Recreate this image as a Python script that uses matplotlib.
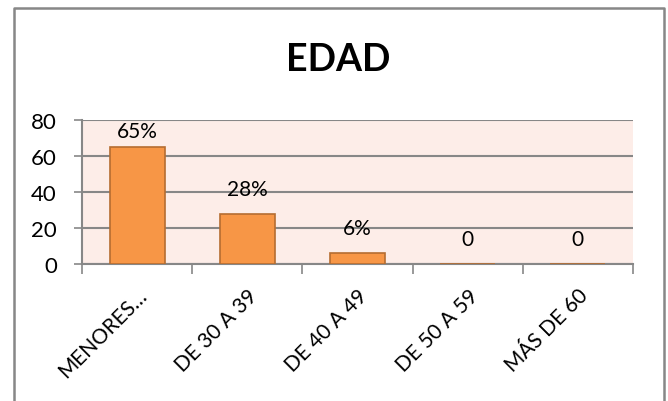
import numpy as np
import matplotlib.pyplot as plt
import matplotlib.transforms as mtransforms
from matplotlib.lines import Line2D

# data
categories = ['MENORES…', 'DE 30 A 39', 'DE 40 A 49', 'DE 50 A 59', 'MÁS DE 60']
values = [65, 28, 6, 0, 0]
labels = ['65%', '28%', '6%', '0', '0']

plt.rcParams['font.family'] = ['Lato', 'DejaVu Sans']

fig = plt.figure(figsize=(6.68, 4.02), dpi=100)
ax = fig.add_axes([82 / 668, 137 / 402, 551 / 668, 144 / 402])

x = np.arange(len(categories))
ax.bar(x, values, width=0.5, color='#F79646', edgecolor='#B66D31', linewidth=1.2, zorder=3)

ymax = 80
# labels sit ~25 px above the bar top, pushed down when they would leave the plot area
px_per_unit = 144 / ymax
for xi, v, lab in zip(x, values, labels):
    yc = min(v + 25 / px_per_unit, ymax - 11 / px_per_unit)
    ax.text(xi, yc, lab, ha='center', va='center', fontsize=15, color='black', zorder=4)

ax.set_xlim(-0.5, len(categories) - 0.5)
ax.set_ylim(0, ymax)
ax.set_yticks([0, 20, 40, 60, 80])
ax.set_facecolor('#FDEDE8')
ax.grid(axis='y', color='#878787', linewidth=1.5, zorder=1)
ax.set_axisbelow(True)

ax.set_xticks(x)
ax.set_xticklabels(categories, rotation=45, ha='right', va='top', rotation_mode='anchor', fontsize=15)
shift = mtransforms.ScaledTranslation(-14 / 100, 0, fig.dpi_scale_trans)
for t in ax.get_xticklabels():
    t.set_transform(t.get_transform() + shift)
ax.set_xticks(np.arange(len(categories) + 1) - 0.5, minor=True)
ax.tick_params(axis='x', which='major', length=0, pad=15)
ax.tick_params(axis='x', which='minor', length=7, width=1.2, color='#878787')
ax.tick_params(axis='y', length=6, width=1.2, color='#878787', labelsize=16, pad=12)

for side in ['top', 'right']:
    ax.spines[side].set_visible(False)
for side in ['left', 'bottom']:
    ax.spines[side].set_color('#878787')
    ax.spines[side].set_linewidth(1.5)

fig.text(338 / 668, 1 - 60 / 402, 'EDAD', ha='center', va='center', fontsize=27, fontweight='bold')

# outer chart frame, open at the bottom
fx0, fx1, fy1 = 13.5 / 668, 663.5 / 668, 1 - 8.5 / 402
fig.add_artist(Line2D([fx0, fx0, fx1, fx1], [0, fy1, fy1, 0], transform=fig.transFigure,
                      color='#878787', linewidth=1.8))

fig.savefig('out.png', dpi=100)
